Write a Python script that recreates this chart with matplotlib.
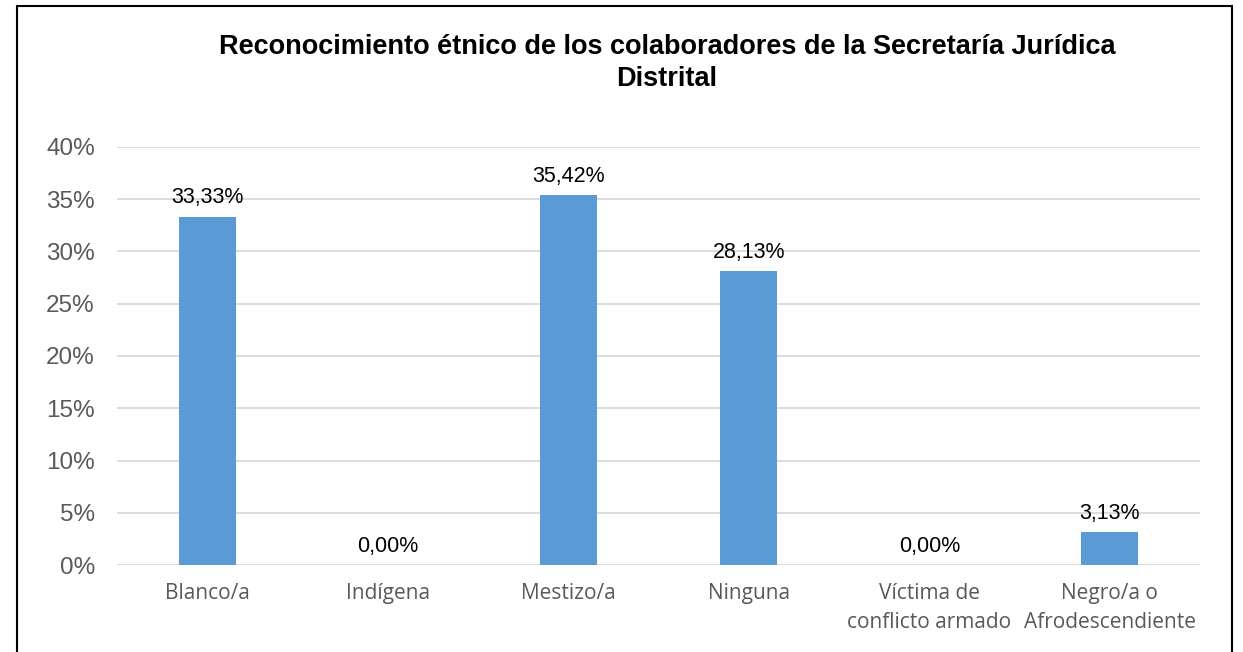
import matplotlib
matplotlib.use("Agg")
import matplotlib.pyplot as plt
from matplotlib.patches import Rectangle
from matplotlib.ticker import FuncFormatter

categories = ["Blanco/a", "Indígena", "Mestizo/a", "Ninguna",
              "Víctima de\nconflicto armado", "Negro/a o\nAfrodescendiente"]
values = [33.33, 0.00, 35.42, 28.13, 0.00, 3.13]
yticks = [0, 5, 10, 15, 20, 25, 30, 35, 40]
title = "Reconocimiento étnico de los colaboradores de la Secretaría Jurídica\nDistrital"

W, H = 1243, 652
fig = plt.figure(figsize=(W / 100, H / 100), dpi=100)
ax = fig.add_axes([117 / W, 1 - 565 / H, (1200 - 117) / W, (565 - 147) / H])

x = range(len(categories))
ax.bar(x, values, width=0.315, color="#5B9BD5", zorder=3)

# data labels
for xi, v in zip(x, values):
    ax.annotate(f"{v:.2f}%".replace(".", ","), (xi, v), xytext=(0, 6),
                textcoords="offset points", ha="center", va="bottom",
                fontsize=15.5, family="Liberation Sans", color="black", zorder=4)

ax.set_xlim(-0.5, len(categories) - 0.5)
ax.set_ylim(0, 40)
ax.set_yticks(yticks)
ax.yaxis.set_major_formatter(FuncFormatter(lambda v, p: f"{v:.0f}%"))
ax.grid(axis="y", color="#D9D9D9", linewidth=1.3, zorder=0)
for s in ax.spines.values():
    s.set_visible(False)
ax.tick_params(length=0)
ax.tick_params(axis="y", pad=16, labelsize=17.5, labelcolor="#595959")
for t in ax.get_yticklabels():
    t.set_family("Liberation Sans")
ax.set_xticks(list(x))
ax.set_xticklabels(categories, fontsize=15, color="#595959", family="Open Sans",
                   linespacing=1.5)
ax.tick_params(axis="x", pad=13)

fig.text(667 / W, 1 - 63 / H, title, ha="center", va="center", fontsize=19.5,
         fontweight="bold", family="Liberation Sans", linespacing=1.3)

# outer frame
fig.patches.append(Rectangle((17 / W, -0.05), (1232 - 17) / W, (1 - 6 / H) + 0.05,
                             transform=fig.transFigure, fill=False,
                             edgecolor="black", linewidth=1.5))

fig.savefig("out.png", dpi=100)
